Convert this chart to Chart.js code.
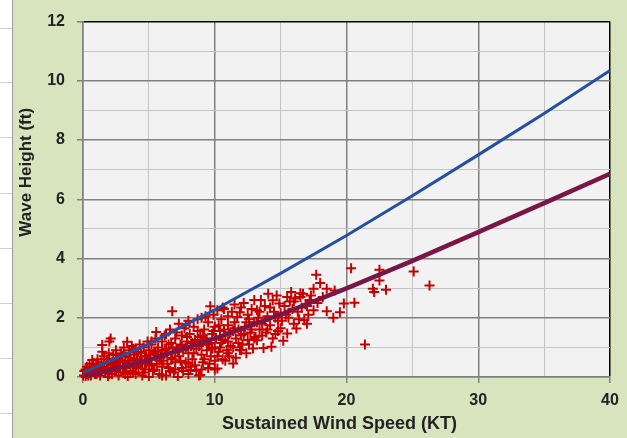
<!DOCTYPE html>
<html><head><meta charset="utf-8">
<script src="https://cdn.jsdelivr.net/npm/chart.js@4.4.1/dist/chart.umd.min.js"></script>
<style>html,body{margin:0;padding:0;background:#d7e4bd;overflow:hidden}</style>
</head><body><canvas id="c" width="627" height="438"></canvas>
<script>
// Observations: sustained wind speed (kt) and wave height (ft)
const windKt = [
 0.0,0.1,0.2,0.3,0.4,0.5,0.6,0.7,0.7,0.8,0.9,1.0,
 1.1,1.2,1.3,1.4,1.46,1.46,1.5,1.6,1.7,1.8,1.9,1.96,2.0,2.0,2.1,2.1,
 2.2,2.3,2.4,2.5,2.5,2.6,2.7,2.8,2.9,3.0,3.0,3.1,
 3.2,3.3,3.35,3.4,3.5,3.5,3.6,3.7,3.8,3.9,4.0,4.0,4.1,
 4.2,4.3,4.4,4.5,4.5,4.6,4.7,4.8,4.9,5.0,5.0,5.0,
 5.1,5.2,5.3,5.4,5.5,5.56,5.6,5.7,5.8,5.9,6.0,6.0,6.0,
 6.1,6.2,6.3,6.4,6.5,6.5,6.6,6.7,6.77,6.8,6.9,7.0,7.0,7.0,
 7.1,7.2,7.27,7.3,7.4,7.5,7.5,7.6,7.7,7.8,7.9,8.0,8.0,8.0,
 8.1,8.15,8.2,8.3,8.4,8.5,8.5,8.6,8.7,8.8,8.9,8.9,9.0,9.0,9.0,
 9.1,9.2,9.3,9.4,9.5,9.5,9.6,9.66,9.7,9.8,9.9,10.0,10.0,10.0,
 10.1,10.2,10.2,10.3,10.4,10.5,10.5,10.6,10.7,10.8,10.9,11.0,11.0,11.0,
 11.1,11.2,11.3,11.4,11.4,11.5,11.6,11.7,11.8,11.9,11.9,12.0,12.0,
 12.1,12.2,12.3,12.4,12.5,12.5,12.6,12.7,12.8,12.9,13.0,13.0,
 13.1,13.2,13.2,13.3,13.4,13.5,13.6,13.7,13.8,13.9,14.0,14.06,
 14.2,14.3,14.4,14.5,14.6,14.7,14.8,14.9,15.0,15.0,
 15.2,15.3,15.5,15.5,15.6,15.8,15.9,16.0,16.0,
 16.2,16.3,16.5,16.5,16.7,16.8,16.9,17.0,17.0,
 17.2,17.5,17.5,17.7,18.0,18.2,18.5,18.5,19.0,19.1,19.5,19.8,20.35,20.6,21.4,22.0,22.1,22.5,22.5,23.0,25.1,26.3,
 0.2,0.4,0.5,0.8,1.0,1.2,1.4,1.6,1.8,2.0,2.2,2.4,
 2.6,2.8,3.0,3.2,3.4,3.6,3.8,4.0,4.2,4.4,4.6,4.8,5.0,
 5.2,5.4,5.6,5.8,6.0,6.2,6.4,6.6,6.8,7.0,7.2,7.4,
 7.6,7.8,8.0,8.2,8.4,8.6,8.8,9.0,9.2,9.4,9.6,9.8,10.0,
 10.2,10.4,10.6,10.8,11.0,11.2,11.4,11.6,11.8,12.0,12.2,12.4,
 12.6,12.8,13.0,13.2,13.4,13.6,13.8,14.0,14.2,14.4,14.6,14.8,
 15.1,15.4,15.7,16.1,16.4,16.6,17.1,17.3,17.8,
 2.5,3.8,5.2,6.3,7.8,8.7,9.3,10.6,11.5,
 0.3,0.6,0.9,1.1,1.5,1.9,2.3,2.7,3.1,3.5,3.9,4.3,4.7,5.1,5.5,
 5.9,6.3,6.7,7.1,7.5,7.9,8.3,8.7,9.1,9.5,9.9,10.3,10.7,11.1,11.5
];
const waveFt = [
 0.05,0.2,0.0,0.35,0.15,0.45,0.05,0.57,0.3,0.2,0.1,0.4,
 0.6,0.25,0.05,0.5,0.85,1.08,0.3,0.7,0.15,0.45,0.0,0.8,1.2,0.6,0.3,1.3,
 0.1,0.75,0.45,0.2,0.9,0.6,0.05,0.35,0.8,0.5,0.15,1.0,
 0.7,0.3,1.19,0.0,0.9,0.55,0.2,1.05,0.4,0.75,0.1,0.95,0.6,
 0.3,1.1,0.8,0.05,0.5,1.0,0.25,0.7,1.2,0.4,0.9,0.0,
 0.6,1.1,0.2,0.8,1.3,1.52,0.45,1.0,0.1,0.7,1.2,0.35,0.9,
 0.55,1.4,0.05,0.8,1.1,0.3,1.6,0.65,2.22,1.0,0.15,1.3,0.5,0.85,
 1.5,0.0,1.8,0.7,1.1,0.3,1.4,0.9,1.65,0.5,1.2,0.1,1.9,0.8,
 1.45,0.24,1.05,0.6,1.7,1.25,0.4,0.95,1.55,0.05,0.07,1.35,0.75,2.0,1.1,
 0.5,1.6,1.3,0.9,1.85,0.3,1.15,2.39,0.7,1.45,2.1,1.0,1.7,0.55,
 1.3,0.29,2.25,0.85,1.55,1.95,1.15,0.6,2.3,1.4,0.9,1.75,2.05,1.2,
 0.7,1.5,2.2,0.46,1.0,1.85,1.3,2.03,1.6,2.19,0.91,1.4,2.35,
 1.1,2.5,1.7,0.8,2.1,1.25,1.95,1.5,2.3,0.96,1.85,2.6,
 1.35,2.25,1.24,2.0,1.6,2.6,1.8,0.98,2.4,1.5,2.05,2.81,
 1.75,1.02,2.59,2.2,1.45,2.75,1.9,2.48,2.15,1.65,
 1.22,2.4,1.47,2.7,2.0,2.87,2.3,1.8,2.55,
 1.64,2.2,2.83,2.7,2.81,1.92,2.45,1.8,2.4,
 2.6,2.98,2.25,3.45,3.17,2.7,2.98,2.22,2.0,2.92,2.19,2.48,3.67,2.51,1.10,2.98,2.87,3.62,3.26,2.95,3.56,3.09,
 0.25,0.05,0.3,0.45,0.1,0.4,0.2,0.35,0.6,0.1,0.5,0.3,
 0.3,0.55,0.7,0.1,0.45,0.65,0.15,0.35,0.85,0.5,0.15,0.45,0.65,
 0.4,0.25,0.75,0.55,0.05,0.9,0.45,0.2,0.6,0.25,0.85,0.55,
 0.2,1.0,0.45,0.35,0.8,0.2,1.05,0.25,0.6,1.2,0.45,0.95,0.25,
 0.7,1.0,1.25,0.55,0.8,1.05,1.55,0.65,1.15,0.9,1.45,1.85,
 1.1,1.6,1.3,1.85,2.2,1.4,1.9,1.6,2.35,1.3,2.0,1.55,
 1.9,2.1,2.55,2.65,1.95,2.35,2.1,2.75,2.5,
 0.75,0.95,1.2,1.45,1.75,1.95,2.05,2.35,2.45,
 0.1,0.2,0.25,0.15,0.35,0.3,0.4,0.5,0.35,0.45,0.6,0.55,0.7,0.75,0.85,
 0.65,0.95,1.15,0.95,1.05,1.35,1.15,1.2,1.4,1.1,1.55,1.75,1.6,1.45,1.65
];
// Curves
const curveWindKt = [0,5,10,15,20,25,30,35,40];
const upperCurveFt = [0.15,1.12,2.27,3.5,4.78,6.12,7.5,8.9,10.35];
const fitCurveFt = [0,0.57,1.30,2.11,2.99,3.92,4.89,5.87,6.86];
// Axis tick labels
const yTickLabels = [0,2,4,6,8,10,12];
const xTickLabels = [0,10,20,30,40];

const FONT = "'Liberation Sans', Arial, sans-serif";
const pts = (xs, ys) => xs.map((x, i) => ({x: x, y: ys[i]}));

function shiftTitle(scale, prop, delta) {
  if (!scale || scale._titleShifted) return;
  const orig = scale.drawTitle.bind(scale);
  scale.drawTitle = function () {
    const v = this[prop]; this[prop] = v + delta; orig(); this[prop] = v;
  };
  scale._titleShifted = true;
}

const bgPlugin = {
  id: 'bg',
  beforeDraw(chart) {
    const ctx = chart.ctx, W = chart.width, H = chart.height, a = chart.chartArea;
    ctx.save();
    ctx.fillStyle = '#d7e4bd';
    ctx.fillRect(0, 0, W, H);
    ctx.fillStyle = '#ffffff';
    ctx.fillRect(0, 0, 12, H);
    ctx.strokeStyle = '#d0d0d0';
    ctx.lineWidth = 1;
    [28, 82, 137, 193, 248, 303, 358, 413].forEach(y => {
      ctx.beginPath(); ctx.moveTo(0, y + 0.5); ctx.lineTo(12, y + 0.5); ctx.stroke();
    });
    ctx.strokeStyle = '#9a9a9a';
    ctx.beginPath(); ctx.moveTo(12.5, 0); ctx.lineTo(12.5, H); ctx.stroke();
    ctx.fillStyle = '#f2f2f2';
    ctx.fillRect(a.left, a.top, a.right - a.left, a.bottom - a.top);
    ctx.restore();
    shiftTitle(chart.scales.y, 'top', -54);
    shiftTitle(chart.scales.x, 'right', -14);
  }
};

new Chart(document.getElementById('c'), {
  type: 'scatter',
  data: {
    datasets: [
      { label: 'Upper', data: pts(curveWindKt, upperCurveFt), showLine: true,
        borderColor: '#2350a3', borderWidth: 3, pointRadius: 0, order: 0 },
      { label: 'Fit', data: pts(curveWindKt, fitCurveFt), showLine: true,
        borderColor: '#7a1547', borderWidth: 4.5, pointRadius: 0, order: 1 },
      { label: 'Observed', data: pts(windKt, waveFt), showLine: false,
        pointStyle: 'cross', pointRadius: 5, pointBorderWidth: 2,
        borderColor: '#c80000', backgroundColor: '#c80000', order: 2, clip: 4 }
    ]
  },
  options: {
    responsive: false, animation: false, devicePixelRatio: 1,
    layout: { padding: { left: 13, top: 20, right: 17, bottom: 0 } },
    plugins: { legend: { display: false }, tooltip: { enabled: false } },
    scales: {
      x: {
        type: 'linear', min: 0, max: 40,
        afterFit(s) { s.height = 61; },
        ticks: { stepSize: 5, autoSkip: false, maxRotation: 0, padding: 8, color: '#222',
          font: { family: FONT, size: 16, weight: 'bold' },
          callback: v => xTickLabels.includes(v) ? String(v) : '' },
        grid: {
          color: c => c.tick.value === 40 ? '#000000' : (c.tick.value % 10 === 0 ? '#808080' : '#c4c4c4'),
          lineWidth: c => (c.tick.value % 10 === 0 ? 1.5 : 1),
          tickColor: c => (c.tick.value % 10 === 0 ? '#808080' : 'rgba(0,0,0,0)'),
          tickLength: 6
        },
        border: { color: '#808080', width: 1.5 },
        title: { display: true, text: 'Sustained Wind Speed (KT)', color: '#222',
          font: { family: FONT, size: 18, weight: 'bold' }, padding: { top: 0, bottom: 3 } }
      },
      y: {
        type: 'linear', min: 0, max: 12,
        afterFit(s) { s.width = 70; },
        ticks: { stepSize: 1, autoSkip: false, padding: 12, color: '#222',
          font: { family: FONT, size: 16, weight: 'bold' },
          callback: v => yTickLabels.includes(v) ? String(v) : '' },
        grid: {
          color: c => c.tick.value === 12 ? '#000000' : (c.tick.value % 2 === 0 ? '#808080' : '#c4c4c4'),
          lineWidth: c => (c.tick.value % 2 === 0 ? 1.5 : 1),
          tickColor: c => (c.tick.value % 2 === 0 ? '#808080' : 'rgba(0,0,0,0)'),
          tickLength: 6
        },
        border: { color: '#808080', width: 1.5 },
        title: { display: true, text: 'Wave Height (ft)', color: '#222',
          font: { family: FONT, size: 17, weight: 'bold' }, padding: { top: 3, bottom: 0 } }
      }
    }
  },
  plugins: [bgPlugin]
});
</script>
</body></html>
